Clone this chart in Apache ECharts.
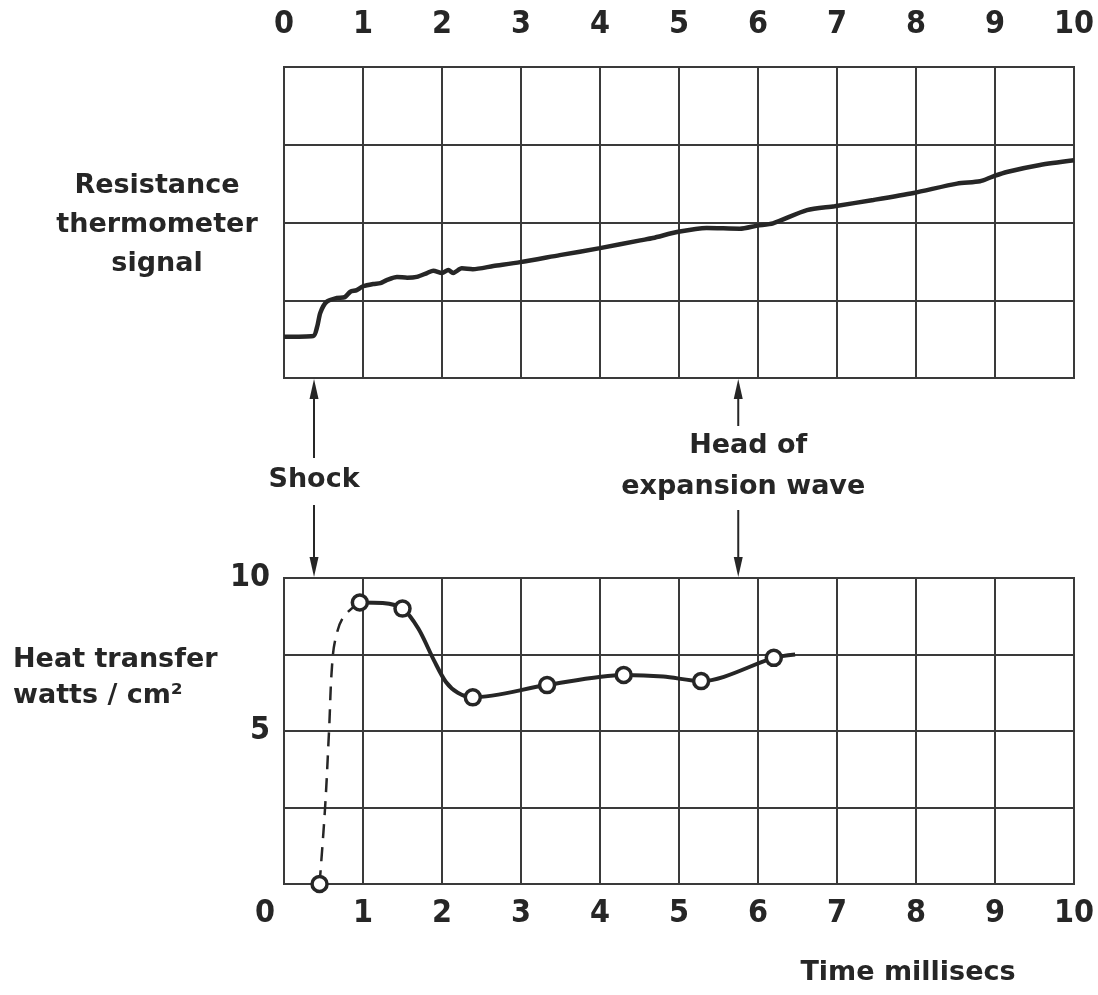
<!DOCTYPE html>
<html>
<head>
<meta charset="utf-8">
<script src="https://cdn.jsdelivr.net/npm/echarts@6/dist/echarts.min.js"></script>
<style>html,body{margin:0;padding:0;background:#fff}#c{width:1098px;height:995px}</style>
</head>
<body>
<div id="c"></div>
<script>
// ---- data ----
const xTicks = [0, 1, 2, 3, 4, 5, 6, 7, 8, 9, 10];
const heatTicks = [10, 5, 0];
// Resistance thermometer signal (arbitrary units, 4 divisions)
const signalTime = [0.0, 0.37, 0.42, 0.46, 0.54, 0.67, 0.77, 0.84, 0.92, 1.0, 1.13, 1.22, 1.30, 1.43, 1.56, 1.68, 1.81, 1.89, 2.0, 2.08, 2.14, 2.25, 2.39, 2.65, 2.99, 3.49, 4.0, 4.51, 4.67, 4.99, 5.35, 5.77, 5.99, 6.19, 6.62, 6.97, 7.46, 7.97, 8.52, 8.81, 8.97, 9.15, 9.57, 10.0];
const signalValue = [0.53, 0.54, 0.66, 0.84, 0.98, 1.03, 1.04, 1.11, 1.13, 1.18, 1.21, 1.22, 1.26, 1.30, 1.29, 1.30, 1.35, 1.38, 1.35, 1.39, 1.35, 1.41, 1.40, 1.44, 1.49, 1.58, 1.67, 1.77, 1.80, 1.88, 1.93, 1.92, 1.96, 1.99, 2.16, 2.21, 2.29, 2.38, 2.50, 2.53, 2.59, 2.65, 2.74, 2.80];
// Heat transfer, watts/cm2
const heatPointTime = [0.45, 0.96, 1.5, 2.39, 3.33, 4.3, 5.28, 6.2];
const heatPointValue = [0.0, 9.2, 9.0, 6.1, 6.5, 6.83, 6.63, 7.39];
const heatSolidTime = [0.96, 1.25, 1.5, 1.7, 1.9, 2.05, 2.2, 2.39, 3.33, 4.3, 4.8, 5.28, 6.2, 6.47];
const heatSolidValue = [9.2, 9.18, 9.0, 8.35, 7.3, 6.6, 6.25, 6.1, 6.5, 6.83, 6.78, 6.63, 7.39, 7.5];
const heatDashTime = [0.45, 0.52, 0.57, 0.61, 0.66, 0.76, 0.96];
const heatDashValue = [0.0, 2.5, 5.0, 7.2, 8.1, 8.75, 9.2];
const shockTime = 0.38;
const expansionTime = 5.75;

const zip = (a, b) => a.map((v, i) => [v, b[i]]);
const INK = '#262626';
const GRIDC = '#3a3a3a';
const NUMFONT = "'Liberation Sans Narrow', 'DejaVu Sans Condensed', sans-serif";
const TXTFONT = "'DejaVu Sans', sans-serif";

const chart = echarts.init(document.getElementById('c'), null, {renderer: 'canvas'});

const gridCommon = {left: 284, width: 790, show: true, borderColor: GRIDC, borderWidth: 2, backgroundColor: 'transparent'};
const splitStyle = {show: true, lineStyle: {color: GRIDC, width: 2}};
const numLabel = {color: INK, fontFamily: NUMFONT, fontSize: 32, fontWeight: 'bold'};

chart.setOption({
  backgroundColor: '#fff',
  animation: false,
  grid: [
    Object.assign({top: 67, height: 311}, gridCommon),
    Object.assign({top: 578, height: 306}, gridCommon)
  ],
  xAxis: [
    {gridIndex: 0, type: 'value', position: 'top', min: 0, max: 10, interval: 1,
     axisLine: {show: true, lineStyle: {color: GRIDC, width: 2}}, axisTick: {show: false},
     splitLine: splitStyle,
     axisLabel: Object.assign({margin: 26, formatter: v => xTicks.includes(v) ? String(v) : ''}, numLabel)},
    {gridIndex: 1, type: 'value', position: 'bottom', min: 0, max: 10, interval: 1,
     axisLine: {show: true, lineStyle: {color: GRIDC, width: 2}}, axisTick: {show: false},
     splitLine: splitStyle,
     axisLabel: Object.assign({margin: 14,
       formatter: v => v === 0 ? '{z|0}' : (xTicks.includes(v) ? String(v) : ''),
       rich: {z: {padding: [0, 38, 0, 0], color: INK, fontFamily: NUMFONT, fontSize: 32, fontWeight: 'bold'}}}, numLabel)}
  ],
  yAxis: [
    {gridIndex: 0, type: 'value', min: 0, max: 4, interval: 1,
     axisLine: {show: true, lineStyle: {color: GRIDC, width: 2}}, axisTick: {show: false},
     splitLine: splitStyle, axisLabel: {show: false}},
    {gridIndex: 1, type: 'value', min: 0, max: 10, interval: 2.5,
     axisLine: {show: true, lineStyle: {color: GRIDC, width: 2}}, axisTick: {show: false},
     splitLine: splitStyle,
     axisLabel: Object.assign({margin: 14,
       formatter: v => (v > 0 && heatTicks.includes(v)) ? String(v) : ''}, numLabel)}
  ],
  series: [
    {type: 'line', xAxisIndex: 0, yAxisIndex: 0, data: zip(signalTime, signalValue),
     showSymbol: false, smooth: 0.25, lineStyle: {color: INK, width: 4.5}, z: 5},
    {type: 'line', xAxisIndex: 1, yAxisIndex: 1, data: zip(heatDashTime, heatDashValue),
     showSymbol: false, smooth: 0.4, lineStyle: {color: INK, width: 2.5, type: [14, 9]}, z: 4},
    {type: 'line', xAxisIndex: 1, yAxisIndex: 1, data: zip(heatSolidTime, heatSolidValue),
     showSymbol: false, smooth: 0.3, lineStyle: {color: INK, width: 4}, z: 5},
    {type: 'scatter', xAxisIndex: 1, yAxisIndex: 1, data: zip(heatPointTime, heatPointValue),
     symbol: 'circle', symbolSize: 15,
     itemStyle: {color: '#fff', borderColor: INK, borderWidth: 3.5, opacity: 1}, z: 10}
  ]
});

// ---- annotations placed through the axes ----
function arrow(x, yFrom, yTo) {
  const dir = yTo > yFrom ? 1 : -1;
  const headLen = 20, headW = 4.5;
  return [
    {type: 'line', shape: {x1: x, y1: yFrom, x2: x, y2: yTo - dir * headLen * 0.6},
     style: {stroke: INK, lineWidth: 2}},
    {type: 'polygon', shape: {points: [[x, yTo], [x - headW, yTo - dir * headLen], [x + headW, yTo - dir * headLen]]},
     style: {fill: INK}}
  ];
}
const sTop = chart.convertToPixel({xAxisIndex: 0, yAxisIndex: 0}, [shockTime, 0]);
const sBot = chart.convertToPixel({xAxisIndex: 1, yAxisIndex: 1}, [shockTime, 10]);
const eTop = chart.convertToPixel({xAxisIndex: 0, yAxisIndex: 0}, [expansionTime, 0]);
const eBot = chart.convertToPixel({xAxisIndex: 1, yAxisIndex: 1}, [expansionTime, 10]);
const g0Left = chart.convertToPixel({xAxisIndex: 0, yAxisIndex: 0}, [0, 2]);
const g1Left = chart.convertToPixel({xAxisIndex: 1, yAxisIndex: 1}, [0, 7.5]);
const g1Axis = chart.convertToPixel({xAxisIndex: 1, yAxisIndex: 1}, [8, 0]);

const txt = (text, x, y, align, size, lh) => ({type: 'text', z: 20, style: {
  text: text, x: x, y: y, textAlign: align || 'center', textVerticalAlign: 'middle',
  fontFamily: TXTFONT, fontWeight: 'bold', fontSize: size || 27, fill: INK, lineHeight: lh || 39}});

const graphics = []
  .concat(arrow(sTop[0], sTop[1] + 80, sTop[1] + 1))
  .concat(arrow(sBot[0], sBot[1] - 73, sBot[1] - 1))
  .concat(arrow(eTop[0], eTop[1] + 48, eTop[1] + 1))
  .concat(arrow(eBot[0], eBot[1] - 68, eBot[1] - 1))
  .concat([
    txt('Shock', sTop[0], sTop[1] + 102),
    txt('Head of', eTop[0] + 10, eTop[1] + 68),
    txt('expansion wave', eTop[0] + 5, eTop[1] + 109),
    txt('Resistance\nthermometer\nsignal', 157, g0Left[1] + 2),
    txt('Heat transfer\nwatts / cm²', 13, g1Left[1] + 23, 'left', 27, 36),
    txt('Time millisecs', 908, g1Axis[1] + 89, 'center', 27)
  ]);

chart.setOption({graphic: {elements: graphics}});
</script>
</body>
</html>
